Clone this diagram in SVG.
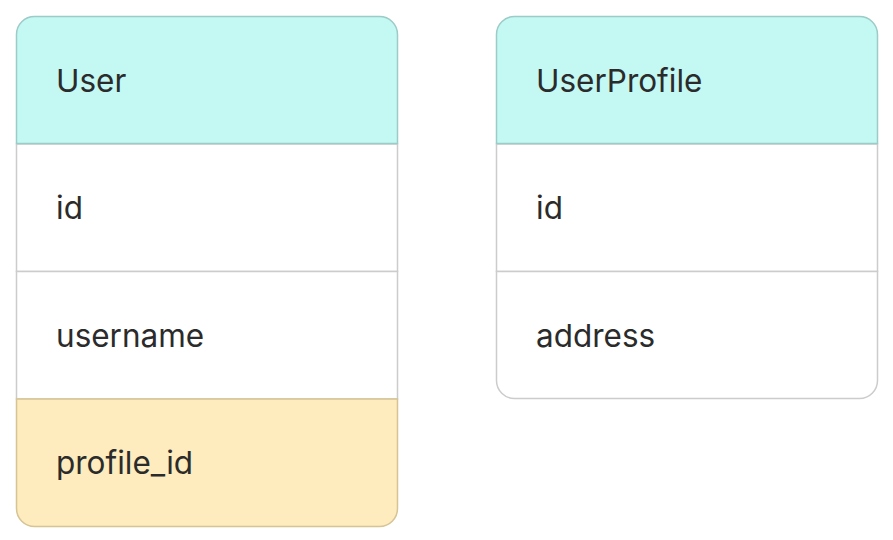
<svg xmlns="http://www.w3.org/2000/svg" width="893" height="540" viewBox="0 0 893 540">
<defs>
<style>
text{font-family:Inter,"Liberation Sans",sans-serif;font-size:31.5px;fill:#2b2b2b}
.hdr{fill:#c4f8f3;stroke:#9ccbc8;stroke-width:1.5}
.row{fill:#ffffff;stroke:#cccccc;stroke-width:1.5}
.fk{fill:#feebbe;stroke:#d6c494;stroke-width:1.5}
</style>
</defs>
<rect width="893" height="540" fill="#ffffff"/>
<g id="User">
<path class="row" d="M16.5 144 H397.5 V271.5 H16.5 Z"/>
<path class="row" d="M16.5 271.5 H397.5 V399 H16.5 Z"/>
<path class="fk" d="M16.5 399 H397.5 V508.5 A18 18 0 0 1 379.5 526.5 H34.5 A18 18 0 0 1 16.5 508.5 Z"/>
<path class="hdr" d="M16.5 143.5 V34.5 A18 18 0 0 1 34.5 16.5 H379.5 A18 18 0 0 1 397.5 34.5 V143.5 Z"/>
<text x="56" y="91.5">User</text>
<text x="56" y="219">id</text>
<text x="56" y="346.5">username</text>
<text x="56" y="474">profile_id</text>
</g>
<g id="UserProfile">
<path class="row" d="M496.5 144 H877.5 V271.5 H496.5 Z"/>
<path class="row" d="M496.5 271.5 H877.5 V380.5 A18 18 0 0 1 859.5 398.5 H514.5 A18 18 0 0 1 496.5 380.5 Z"/>
<path class="hdr" d="M496.5 143.5 V34.5 A18 18 0 0 1 514.5 16.5 H859.5 A18 18 0 0 1 877.5 34.5 V143.5 Z"/>
<text x="536" y="91.5">UserProfile</text>
<text x="536" y="219">id</text>
<text x="536" y="346.5">address</text>
</g>
<g id="connectors"></g>
</svg>
